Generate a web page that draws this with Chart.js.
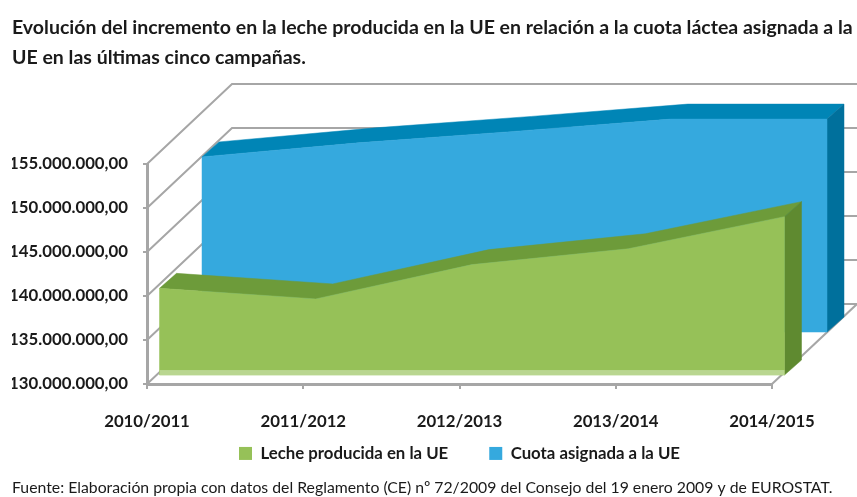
<!DOCTYPE html>
<html>
<head>
<meta charset="utf-8">
<style>
  html, body { margin: 0; padding: 0; background: #fff; }
  canvas { display: block; }
</style>
<script src="https://cdn.jsdelivr.net/npm/chart.js@4"></script>
</head>
<body>
<canvas id="leche" width="857" height="497"></canvas>
<script>
const categories = ["2010/2011", "2011/2012", "2012/2013", "2013/2014", "2014/2015"];
const lecheProducida = [139850000, 138650000, 142550000, 144350000, 148000000];
const cuotaAsignada = [149900000, 151500000, 152800000, 154200000, 154200000];
const yTickLabels = ["130.000.000,00", "135.000.000,00", "140.000.000,00", "145.000.000,00", "150.000.000,00", "155.000.000,00"];

const titleLines = [
  "Evolución del incremento en la leche producida en la UE en relación a la cuota láctea asignada a la",
  "UE en las últimas cinco campañas."
];
const fuente = "Fuente: Elaboración propia con datos del Reglamento (CE) nº 72/2009 del Consejo del 19 enero 2009 y de EUROSTAT.";

const gray = "#a6a6a6";
const wall = { dx: 85, dy: -80 };
// how each series sits inside the 3D box
const look = [
  { dx: 12.5, dy: -9, depthX: 17, depthY: -15, front: "#96c158", top: "#6d9b3a", side: "#5f8a30", strip: "#b9d690" },
  { dx: 55, dy: -52, depthX: 17, depthY: -15, front: "#35a9de", top: "#0085b6", side: "#00709c" }
];

function poly(ctx, pts, color) {
  ctx.beginPath();
  pts.forEach((p, i) => i ? ctx.lineTo(p[0], p[1]) : ctx.moveTo(p[0], p[1]));
  ctx.closePath();
  ctx.fillStyle = color;
  ctx.fill();
  ctx.strokeStyle = color;
  ctx.lineWidth = 0.5;
  ctx.stroke();
}

const box3d = {
  id: "box3d",
  // legend sits closer to the axis than its label padding allows
  afterLayout(chart) {
    chart.legend.top = chart.scales.x.top + 20;
  },
  // walls and floor lines behind the areas
  beforeDatasetsDraw(chart) {
    const { ctx, scales: { x, y } } = chart;
    ctx.save();
    ctx.strokeStyle = gray;
    ctx.lineWidth = 2;
    y.ticks.forEach((t, i) => {
      const py = y.getPixelForTick(i);
      ctx.beginPath();
      ctx.moveTo(x.left, py);
      ctx.lineTo(x.left + wall.dx, py + wall.dy);
      ctx.lineTo(x.right + wall.dx, py + wall.dy);
      ctx.stroke();
    });
    ctx.beginPath();
    ctx.moveTo(x.right, y.bottom);
    ctx.lineTo(x.right + wall.dx, y.bottom + wall.dy);
    ctx.stroke();
    ctx.restore();
  },
  // area faces, worked out from the points the scales gave
  beforeDatasetDraw(chart, args) {
    const { ctx, scales: { y } } = chart;
    const s = look[args.index];
    const base = y.getPixelForValue(y.min) + s.dy;
    const pts = args.meta.data.map(p => [p.x + s.dx, p.y + s.dy]);
    const last = pts[pts.length - 1];
    const backPts = pts.map(p => [p[0] + s.depthX, p[1] + s.depthY]);
    ctx.save();
    poly(ctx, pts.concat(backPts.slice().reverse()), s.top);
    poly(ctx, [last, [last[0] + s.depthX, last[1] + s.depthY], [last[0] + s.depthX, base + s.depthY], [last[0], base]], s.side);
    poly(ctx, pts.concat([[last[0], base], [pts[0][0], base]]), s.front);
    if (s.strip) {
      ctx.fillStyle = s.strip;
      ctx.fillRect(pts[0][0], base - 5, last[0] - pts[0][0], 5);
    }
    ctx.restore();
  }
};

const textFont = "Lato, 'Liberation Sans', sans-serif";

new Chart(document.getElementById("leche"), {
  type: "line",
  data: {
    labels: categories,
    datasets: [
      { label: "Leche producida en la UE", data: lecheProducida, yAxisID: "y", backgroundColor: look[0].front, borderColor: look[0].front, borderWidth: 0, pointRadius: 0, fill: false },
      { label: "Cuota asignada a la UE", data: cuotaAsignada, yAxisID: "y", backgroundColor: look[1].front, borderColor: look[1].front, borderWidth: 0, pointRadius: 0, fill: false }
    ]
  },
  options: {
    responsive: false,
    animation: false,
    layout: { padding: { left: 12, right: 0, top: 0, bottom: 0 } },
    plugins: {
      tooltip: { enabled: false },
      title: {
        display: true,
        text: titleLines,
        align: "start",
        color: "#1a1a1a",
        font: { family: textFont, size: 19.5, weight: "bold", lineHeight: 1.54 },
        padding: { top: 13, bottom: 91 }
      },
      subtitle: {
        display: true,
        position: "bottom",
        text: fuente,
        align: "start",
        color: "#1a1a1a",
        font: { family: textFont, size: 15.8, lineHeight: 1.2 },
        padding: { top: 0, bottom: 0 }
      },
      legend: {
        position: "bottom",
        fullSize: false,
        maxHeight: 44,
        labels: {
          boxWidth: 13,
          boxHeight: 13,
          padding: 41,
          color: "#1a1a1a",
          font: { family: textFont, size: 16.8, weight: "bold" }
        }
      }
    },
    scales: {
      x: {
        offset: false,
        afterFit(scale) { scale.height = 50; },
        grid: { drawOnChartArea: false, color: gray, tickLength: 5, lineWidth: 2 },
        border: { color: gray, width: 3 },
        ticks: { color: "#1a1a1a", padding: 22, maxRotation: 0, font: { family: textFont, size: 16.8, weight: "bold" } }
      },
      y: {
        min: 130000000,
        max: 155000000,
        afterFit(scale) { scale.width = 135; },
        grid: { drawOnChartArea: false, color: gray, tickLength: 4, lineWidth: 2 },
        border: { color: gray, width: 3 },
        ticks: {
          stepSize: 5000000,
          color: "#1a1a1a",
          padding: 15,
          font: { family: textFont, size: 16.8, weight: "bold" },
          callback: (v, i) => yTickLabels[i]
        }
      },
      // empty axis keeps room on the right for the box depth
      margen: {
        position: "right",
        afterFit(scale) { scale.width = 85; },
        grid: { display: false },
        border: { display: false },
        ticks: { display: false }
      }
    }
  },
  plugins: [box3d]
});
</script>
</body>
</html>
